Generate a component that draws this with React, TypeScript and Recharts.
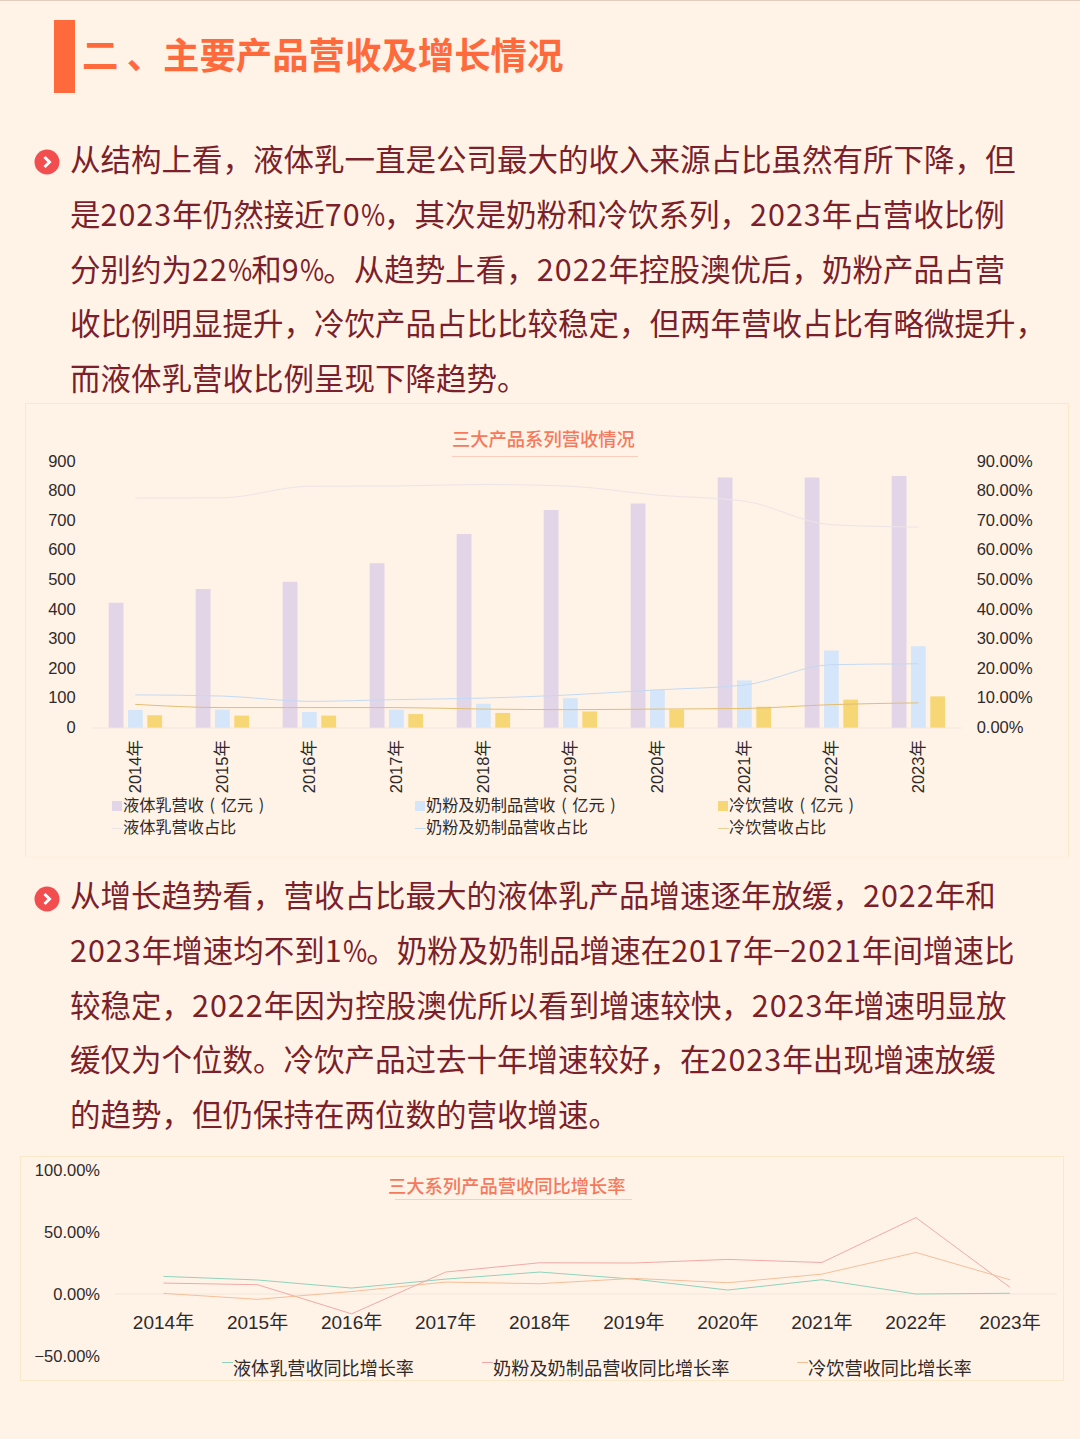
import React from 'react';
import { ComposedChart, LineChart, Bar, Line, XAxis, YAxis, ReferenceLine } from 'recharts';

const years = ['2014年', '2015年', '2016年', '2017年', '2018年', '2019年', '2020年', '2021年', '2022年', '2023年'];

// revenue, 亿元
const liquidRevenue = [423, 470, 494, 557, 656, 737, 759, 847, 847, 852];
const powderRevenue = [61, 62, 54, 62, 82, 101, 129, 161, 262, 276];
const coldRevenue = [43, 42, 42, 47, 51, 56, 62, 72, 96, 107];

// share of revenue, %
const liquidShare = [77.7, 77.8, 81.7, 81.8, 82.3, 81.7, 78.7, 76.7, 68.7, 67.9];
const powderShare = [11.2, 10.8, 9, 9.6, 10.1, 11.2, 12.9, 14.5, 21.4, 21.7];
const coldShare = [8, 6.9, 6.9, 6.9, 6.4, 6.2, 6.4, 6.6, 7.9, 8.5];

// year on year growth, %
const liquidGrowth = [14.2, 11.3, 4.8, 12, 17.7, 12, 3.2, 11.5, 0, 0.6];
const powderGrowth = [8.8, 7.5, -16, 17.7, 25.2, 25, 27.9, 25.4, 61.6, 5.4];
const coldGrowth = [0.5, -4.3, 2, 9.6, 8.3, 12.6, 9.1, 16, 33.5, 11.5];

const revenueTicks = [0, 100, 200, 300, 400, 500, 600, 700, 800, 900];
const shareTicks = [0, 10, 20, 30, 40, 50, 60, 70, 80, 90];
const growthTicks = [-50, 0, 50, 100];

const heading = '二 、主要产品营收及增长情况';
const paragraphOne = [
    '从结构上看，液体乳一直是公司最大的收入来源占比虽然有所下降，但',
    '是2023年仍然接近70%，其次是奶粉和冷饮系列，2023年占营收比例',
    '分别约为22%和9%。从趋势上看，2022年控股澳优后，奶粉产品占营',
    '收比例明显提升，冷饮产品占比比较稳定，但两年营收占比有略微提升，',
    '而液体乳营收比例呈现下降趋势。',
];
const paragraphTwo = [
    '从增长趋势看，营收占比最大的液体乳产品增速逐年放缓，2022年和',
    '2023年增速均不到1%。奶粉及奶制品增速在2017年−2021年间增速比',
    '较稳定，2022年因为控股澳优所以看到增速较快，2023年增速明显放',
    '缓仅为个位数。冷饮产品过去十年增速较好，在2023年出现增速放缓',
    '的趋势，但仍保持在两位数的营收增速。',
];

const revenueData = years.map((year, i) => ({
    year,
    liquid: liquidRevenue[i],
    powder: powderRevenue[i],
    cold: coldRevenue[i],
    liquidShare: liquidShare[i],
    powderShare: powderShare[i],
    coldShare: coldShare[i],
}));

const growthData = years.map((year, i) => ({
    year,
    liquid: liquidGrowth[i],
    powder: powderGrowth[i],
    cold: coldGrowth[i],
}));

const CJK = '"Noto Sans CJK SC", sans-serif';
const NUM = '"Liberation Sans", "Noto Sans CJK SC", sans-serif';
const AXIS_TEXT = '#2F2A28';
const BODY_TEXT = '#7B1F2A';
const ORANGE = '#FF6A3C';

const percent = (v: number) => `${v.toFixed(2)}%`.replace('-', '−');

// digits run wider and % narrower in the original font
const bodyRuns = (text: string) =>
    text.split(/(\d+|%)/).map((part, i) => {
        if (part === '%') return <span key={i} style={{ display: 'inline-block', width: 23.5, transform: 'scaleX(0.86)', transformOrigin: 'left' }}>{part}</span>;
        if (/^\d+$/.test(part)) return <span key={i} style={{ letterSpacing: 1 }}>{part}</span>;
        return part;
    });

const BodyLine = ({ text, y }: { text: string; y: number }) => (
    <div style={{ position: 'absolute', left: 70, top: y - 29, height: 54, lineHeight: '54px', fontSize: 30.5, color: BODY_TEXT, whiteSpace: 'nowrap', fontFamily: CJK }}>
        {bodyRuns(text)}
    </div>
);

const Bullet = ({ y }: { y: number }) => (
    <svg style={{ position: 'absolute', left: 34, top: y - 13 }} width={26} height={26}>
        <circle cx={13} cy={13} r={12.5} fill="#F24E50" />
        <path d="M10.5 8 L15.5 13 L10.5 18" fill="none" stroke="#fff" strokeWidth={3} />
    </svg>
);

const ChartTitle = ({ text, left, y, lineLeft, lineWidth, lineY }: { text: string; left: number; y: number; lineLeft: number; lineWidth: number; lineY: number }) => (
    <>
        <div style={{ position: 'absolute', left, top: y - 15, height: 28, lineHeight: '28px', fontSize: 18.3, fontWeight: 500, color: '#F5795C', whiteSpace: 'nowrap', fontFamily: CJK }}>{text}</div>
        <div style={{ position: 'absolute', left: lineLeft, top: lineY, width: lineWidth, height: 1, background: '#FBCDBC' }} />
    </>
);

const LegendItem = ({ text, x, y, color, kind, fontSize, keyY }: { text: string; x: number; y: number; color: string; kind: 'box' | 'line'; fontSize: number; keyY?: number }) => (
    <>
        {kind === 'box'
            ? <div style={{ position: 'absolute', left: x - 11, top: y - 4, width: 10, height: 10, background: color }} />
            : <div style={{ position: 'absolute', left: x - 11, top: keyY ?? y, width: 11, height: 1, background: color }} />}
        <div style={{ position: 'absolute', left: x, top: y - 14, height: 26, lineHeight: '26px', fontSize, wordSpacing: 2, color: AXIS_TEXT, whiteSpace: 'nowrap', fontFamily: CJK }}>{text}</div>
    </>
);

const axisTick = { fill: AXIS_TEXT, fontSize: 16.5, fontFamily: NUM, dy: -1 };

export default function App() {
    return (
        <div style={{ position: 'absolute', left: 0, top: 0, width: 1080, height: 1439, overflow: 'hidden', background: '#FFF3E8', fontFamily: CJK }}>
            <div style={{ position: 'absolute', left: 0, top: 0, width: 1080, height: 1, background: '#E3CDBF' }} />
            <div style={{ position: 'absolute', left: 54, top: 20, width: 21, height: 73, background: ORANGE }} />
            <div style={{ position: 'absolute', left: 82, top: 27, height: 52, lineHeight: '52px', fontSize: 36.4, fontWeight: 700, color: ORANGE, whiteSpace: 'nowrap' }}>{heading}</div>

            <Bullet y={162} />
            {paragraphOne.map((t, i) => <BodyLine key={i} text={t} y={160 + i * 54.8} />)}

            <div style={{ position: 'absolute', left: 25, top: 403, width: 1042, height: 452, border: '1px solid #FBE8C8', borderBottomColor: '#FFF0DF' }} />
            <ComposedChart
                style={{ position: 'absolute', left: 0, top: 400 }}
                width={1080}
                height={460}
                data={revenueData}
                margin={{ top: 61.7, right: 0, bottom: 40, left: 0 }}
                barCategoryGap={33.6}
                barGap={4.5}
            >
                <XAxis
                    dataKey="year"
                    interval={0}
                    height={92}
                    tickLine={false}
                    axisLine={{ stroke: '#F1E6DE' }}
                    tick={{ ...axisTick, angle: -90, textAnchor: 'end', dx: -6, dy: 4 }}
                />
                <YAxis yAxisId="left" width={91.7} domain={[0, 900]} ticks={revenueTicks} interval={0} axisLine={false} tickLine={false} tickSize={0} tickMargin={16} tick={axisTick} />
                <YAxis yAxisId="right" orientation="right" width={118.3} domain={[0, 90]} ticks={shareTicks} interval={0} axisLine={false} tickLine={false} tickSize={0} tickMargin={15} tick={{ ...axisTick, textAnchor: 'start' }} tickFormatter={percent} />
                <Bar yAxisId="left" dataKey="liquid" fill="#E2D5E8" barSize={14.8} isAnimationActive={false} />
                <Bar yAxisId="left" dataKey="powder" fill="#D5E6FA" barSize={14.8} isAnimationActive={false} />
                <Bar yAxisId="left" dataKey="cold" fill="#F6D675" barSize={14.8} isAnimationActive={false} />
                <Line yAxisId="right" type="monotone" dataKey="liquidShare" stroke="#EDE4E6" strokeWidth={1} dot={false} isAnimationActive={false} />
                <Line yAxisId="right" type="monotone" dataKey="powderShare" stroke="#C3DAF3" strokeWidth={1} dot={false} isAnimationActive={false} />
                <Line yAxisId="right" type="monotone" dataKey="coldShare" stroke="#E3BE72" strokeWidth={1} dot={false} isAnimationActive={false} />
            </ComposedChart>
            <ChartTitle text="三大产品系列营收情况" left={452} y={439} lineLeft={452} lineWidth={186} lineY={456} />
            <LegendItem text="液体乳营收 ( 亿元 )" x={123} y={805} color="#E2D5E8" kind="box" fontSize={16.2} />
            <LegendItem text="奶粉及奶制品营收 ( 亿元 )" x={426} y={805} color="#D5E6FA" kind="box" fontSize={16.2} />
            <LegendItem text="冷饮营收 ( 亿元 )" x={729} y={805} color="#F6D675" kind="box" fontSize={16.2} />
            <LegendItem text="液体乳营收占比" x={123} y={827} color="#EDE4E6" kind="line" fontSize={16.2} keyY={828} />
            <LegendItem text="奶粉及奶制品营收占比" x={426} y={827} color="#C3DAF3" kind="line" fontSize={16.2} keyY={828} />
            <LegendItem text="冷饮营收占比" x={729} y={827} color="#E9CE96" kind="line" fontSize={16.2} keyY={828} />

            <Bullet y={899} />
            {paragraphTwo.map((t, i) => <BodyLine key={i} text={t} y={896 + i * 54.8} />)}

            <div style={{ position: 'absolute', left: 20, top: 1156, width: 1042, height: 223, border: '1px solid #FBE8C8' }} />
            <LineChart
                style={{ position: 'absolute', left: 0, top: 1150 }}
                width={1080}
                height={240}
                data={growthData}
                margin={{ top: 20, right: 23, bottom: 33, left: 0 }}
            >
                <XAxis dataKey="year" interval={0} height={1} padding={{ left: 48.5, right: 47 }} axisLine={false} tickLine={false} tick={{ ...axisTick, fontSize: 19, dy: -48 }} />
                <YAxis width={115} domain={[-50, 100]} ticks={growthTicks} interval={0} axisLine={false} tickLine={false} tickSize={0} tickMargin={15} tick={{ ...axisTick, dy: 0 }} tickFormatter={percent} />
                <ReferenceLine y={0} stroke="#F3E7DB" />
                <Line type="linear" dataKey="liquid" stroke="#8FD3BC" strokeWidth={1} dot={false} isAnimationActive={false} />
                <Line type="linear" dataKey="powder" stroke="#F2A9A6" strokeWidth={1} dot={false} isAnimationActive={false} />
                <Line type="linear" dataKey="cold" stroke="#F6BE98" strokeWidth={1} dot={false} isAnimationActive={false} />
            </LineChart>
            <ChartTitle text="三大系列产品营收同比增长率" left={388} y={1186} lineLeft={395} lineWidth={237} lineY={1199} />
            <LegendItem text="液体乳营收同比增长率" x={233} y={1368} color="#8FD3BC" kind="line" fontSize={18.1} keyY={1362} />
            <LegendItem text="奶粉及奶制品营收同比增长率" x={493} y={1368} color="#F2A9A6" kind="line" fontSize={18.2} keyY={1362} />
            <LegendItem text="冷饮营收同比增长率" x={808} y={1368} color="#F6BE98" kind="line" fontSize={18.2} keyY={1362} />
        </div>
    );
}
